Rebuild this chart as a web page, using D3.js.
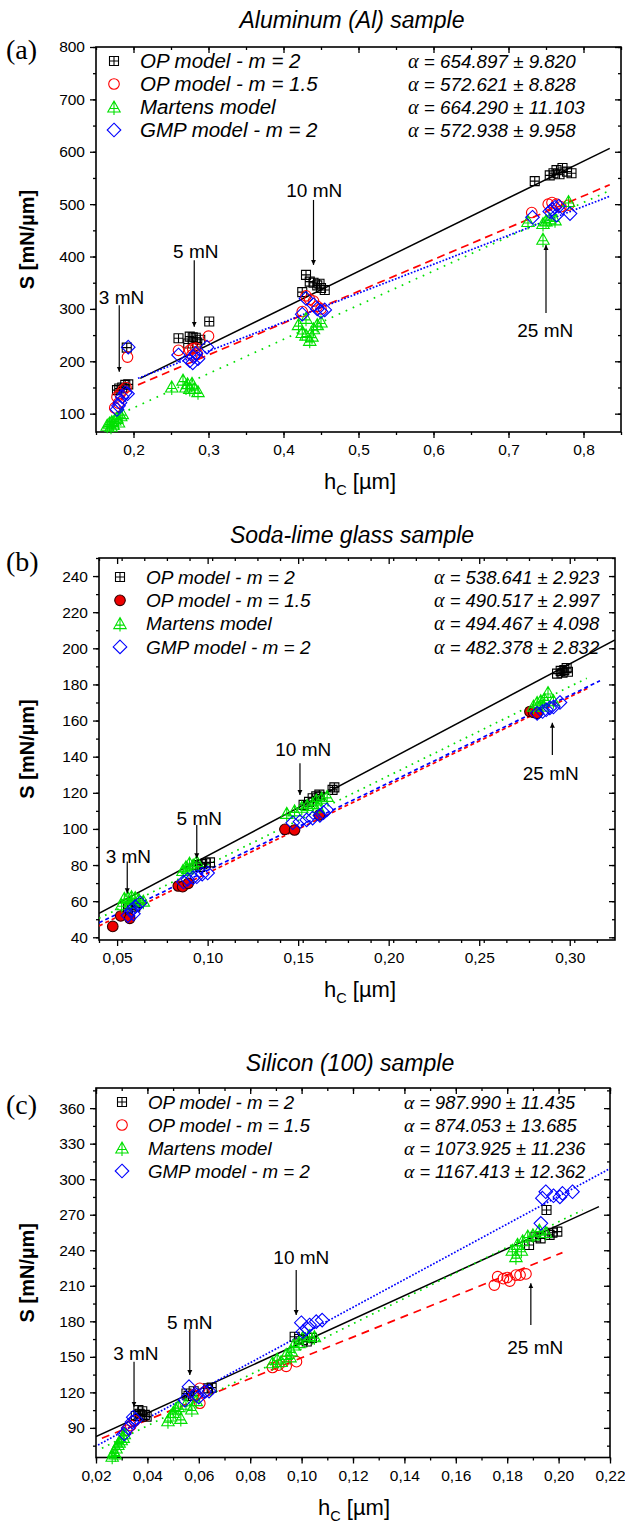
<!DOCTYPE html>
<html>
<head>
<meta charset="utf-8">
<script src="https://cdn.jsdelivr.net/npm/d3@7"></script>
<style>
  body { margin: 0; background: #fff; }
  svg { display: block; }
  text { font-family: "Liberation Sans", Arial, sans-serif; fill: #000; }
</style>
</head>
<body>
<svg id="chart" width="625" height="1527"></svg>
<script>
// ---- shared labels ----
const legendLabels = ["OP model - m = 2", "OP model - m = 1.5", "Martens model", "GMP model - m = 2"];

// ---- (a) Aluminum ----
const alOP2 = [[0.178,145],[0.181,148],[0.185,150],[0.189,155],[0.193,156],[0.191,226],
  [0.26,244],[0.275,247],[0.279,246],[0.283,245],[0.289,241],[0.273,234],[0.285,236],[0.301,276],
  [0.425,332],[0.43,365],[0.44,350],[0.445,345],[0.45,340],[0.455,336],[0.435,352],[0.448,348],
  [0.735,544],[0.76,559],[0.764,565],[0.772,569],[0.768,557],[0.784,559],[0.778,562],[0.755,555]];
const alOP15 = [[0.175,111],[0.178,132],[0.182,138],[0.186,145],[0.19,150],[0.192,208],[0.18,120],
  [0.26,221],[0.275,221],[0.279,224],[0.283,225],[0.278,212],[0.3,248],[0.285,214],
  [0.425,295],[0.43,325],[0.44,315],[0.445,305],[0.45,300],[0.435,318],
  [0.731,484],[0.753,500],[0.758,503],[0.764,500],[0.78,498],[0.77,495]];
const alMart = [[0.165,78],[0.168,82],[0.171,85],[0.173,80],[0.175,88],[0.178,92],[0.18,84],[0.183,96],[0.185,100],[0.17,76],
  [0.251,151],[0.266,164],[0.27,151],[0.275,148],[0.278,158],[0.281,148],[0.286,142],[0.272,157],
  [0.42,270],[0.425,255],[0.43,250],[0.435,240],[0.44,262],[0.445,270],[0.45,275],[0.43,282],[0.438,248],
  [0.726,467],[0.746,463],[0.75,468],[0.762,470],[0.78,505],[0.746,433],[0.755,472]];
const alGMP = [[0.178,108],[0.182,121],[0.185,132],[0.189,140],[0.192,138],[0.193,227],[0.18,115],
  [0.26,212],[0.275,201],[0.28,209],[0.283,215],[0.286,205],[0.298,227],[0.279,197],
  [0.425,290],[0.43,320],[0.44,308],[0.445,300],[0.45,295],[0.455,298],
  [0.732,475],[0.755,486],[0.762,494],[0.767,496],[0.782,482],[0.764,479],[0.758,490]];
const alFits = [[[0.209,167.5],[0.835,606.6]], [[0.206,155],[0.835,537]],
  [[0.184,100.7],[0.835,526]], [[0.206,167.5],[0.835,515]]];
const alAlpha = ["654.897 ± 9.820", "572.621 ± 8.828", "664.290 ± 11.103", "572.938 ± 9.958"];
// label, text h, text S, arrow h, arrow start S, arrow tip S
const alNotes = [["3 mN",0.184,321,0.181,307,180], ["5 mN",0.283,409,0.281,393,266],
  ["10 mN",0.441,527,0.44,508,384], ["25 mN",0.749,258,0.75,292,422]];
const alXTicks = [0.2,0.3,0.4,0.5,0.6,0.7,0.8];
const alYTicks = [100,200,300,400,500,600,700,800];

// ---- (b) Soda-lime glass ----
const glOP2 = [[0.056,56],[0.058,58],[0.06,57],[0.062,59],
  [0.0958,79],[0.097,80.5],[0.099,81],[0.1013,81.5],[0.094,80],
  [0.153,113.3],[0.156,115],[0.158,117],[0.16,118],[0.1617,119],[0.162,117.8],[0.169,121.6],[0.17,123],
  [0.293,186],[0.295,187.5],[0.297,188],[0.2983,189],[0.296,186.5],[0.299,187]];
const glOP15 = [[0.0476,46],[0.052,51.8],[0.057,50.5],
  [0.0838,68.4],[0.0862,68],[0.0893,69.9],
  [0.1427,99.8],[0.148,99.4],[0.1617,107.7],
  [0.278,165],[0.28,164.5],[0.282,164]];
const glMart = [[0.0525,58],[0.054,61.6],[0.056,62],[0.058,62.5],[0.06,62],[0.062,61],[0.0645,60],[0.0575,59],
  [0.0864,77],[0.088,79],[0.09,81],[0.092,80],[0.094,82],[0.089,78],
  [0.1437,108.6],[0.148,110],[0.152,112],[0.155,113],[0.158,114],[0.16,116],[0.163,117],[0.166,118],[0.161,112],
  [0.28,168],[0.282,170],[0.284,171],[0.286,172],[0.288,175.5],[0.291,171],[0.285,168]];
const glGMP = [[0.056,52],[0.058,55],[0.06,57],[0.0627,59],[0.059,53],
  [0.0866,70.6],[0.089,72],[0.092,73],[0.094,73.5],[0.097,75],[0.1,75.6],
  [0.147,103.4],[0.151,104],[0.1547,105],[0.158,106],[0.162,107.5],[0.1658,110.5],[0.164,109],
  [0.282,164],[0.285,165],[0.287,166],[0.289,167],[0.2946,170],[0.291,167.5]];
const glFits = [[[0.04,53.3],[0.325,204.6]], [[0.04,46.3],[0.31,177.9]],
  [[0.04,50.5],[0.3094,183.4]], [[0.04,48],[0.3167,182]]];
const glAlpha = ["538.641 ± 2.923", "490.517 ± 2.997", "494.467 ± 4.098", "482.378 ± 2.832"];
const glNotes = [["3 mN",0.0562,85,0.0556,81.9,64.4], ["5 mN",0.0954,105.9,0.094,102.2,83.7],
  ["10 mN",0.1528,144.1,0.151,136.3,118.8], ["25 mN",0.2895,130.8,0.2904,140.9,158.8]];
const glXTicks = [0.05,0.10,0.15,0.20,0.25,0.30];
const glYTicks = [40,60,80,100,120,140,160,180,200,220,240];

// ---- (c) Silicon (100) ----
const siOP2 = [[0.0355,100],[0.037,102],[0.038,104],[0.039,101],[0.0397,99.5],[0.0365,105],
  [0.0552,119],[0.056,117],[0.0636,123.4],[0.065,124],[0.058,121],
  [0.0973,167],[0.1005,164.2],[0.102,163],[0.104,166],[0.099,165],
  [0.1953,274],[0.1885,244.4],[0.191,251.4],[0.1965,253],[0.1976,254.8],[0.1995,255.7],[0.193,250]];
const siOP15 = [[0.032,88],[0.0335,92],[0.035,96],
  [0.0604,123.4],[0.0604,110.8],[0.062,120],[0.058,118],
  [0.0887,141],[0.091,143],[0.094,142],[0.098,145.9],[0.093,146],
  [0.175,210.6],[0.1763,217.7],[0.1785,216],[0.18,217],[0.181,214],[0.1834,219],[0.1873,220],[0.185,219]];
const siMart = [[0.0263,66],[0.027,70],[0.0278,73],[0.0285,76],[0.029,78],[0.0298,80],[0.0306,82],[0.031,85],[0.0275,68],
  [0.048,96],[0.049,100],[0.05,103],[0.051,106],[0.052,108],[0.053,98],[0.0573,106],[0.059,113],[0.055,110],
  [0.0887,145],[0.0905,148],[0.092,146],[0.094,152],[0.096,155],[0.097,160],[0.099,162],[0.1005,166.7],[0.103,168],[0.105,167],[0.0955,150],
  [0.182,240],[0.1834,234.6],[0.184,245],[0.186,248],[0.188,252],[0.19,253],[0.1925,257],[0.195,255],[0.1855,240]];
const siGMP = [[0.031,85],[0.0325,90],[0.034,95],[0.0345,99],[0.0355,97],
  [0.0546,113.5],[0.0562,124.8],[0.0591,117.8],[0.0623,120.6],[0.064,121],[0.06,116],
  [0.0999,178.8],[0.1005,171.2],[0.1031,176.9],[0.1057,179.7],[0.108,181],[0.102,174],
  [0.1931,262.7],[0.1937,284],[0.195,289.4],[0.198,286],[0.2005,285],[0.2015,288],[0.2054,289.4]];
const siFits = [[[0.02,82.6],[0.2157,276.8]], [[0.0223,81.2],[0.2015,238]],
  [[0.0223,72.8],[0.2093,274]], [[0.0208,75.6],[0.22,309]]];
const siAlpha = ["987.990 ± 11.435", "874.053 ± 13.685", "1073.925 ± 11.236", "1167.413 ± 12.362"];
const siNotes = [["3 mN",0.0355,152.4,0.0348,145.9,107.9], ["5 mN",0.0565,178.8,0.0565,173.2,134.7],
  ["10 mN",0.0999,233.7,0.0979,223.3,185.3], ["25 mN",0.1909,158,0.1892,176.9,212.1]];
const siXTicks = [0.02,0.04,0.06,0.08,0.10,0.12,0.14,0.16,0.18,0.20,0.22];
const siYTicks = [90,120,150,180,210,240,270,300,330,360];

const svg = d3.select("#chart");

// arrow head
svg.append("defs").append("marker")
  .attr("id", "head").attr("viewBox", "0 0 10 10").attr("refX", 10).attr("refY", 5)
  .attr("markerWidth", 5).attr("markerHeight", 7).attr("markerUnits", "userSpaceOnUse")
  .attr("orient", "auto")
  .append("path").attr("d", "M0,0L10,5L0,10Z").attr("fill", "#000");

const colors = ["#000000", "#ff0000", "#00e000", "#0000ff"];
const shapes = {
  sq: "M-4.5,-4.5H4.5V4.5H-4.5Z M0,-4.5V4.5 M-4.5,0H4.5",
  tri: "M0,-6L6.2,5H-6.2Z M0,-6V8 M-4.5,1.5H4.5",
  dia: "M0,-6.8L6.8,0L0,6.8L-6.8,0Z"
};

function marker(sel, i, filledCircle) {
  if (i === 1) {
    sel.append("circle").attr("r", 5.3)
      .attr("fill", filledCircle ? "#ee0000" : "none")
      .attr("stroke", filledCircle ? "#330000" : colors[1]).attr("stroke-width", 1.1);
  } else {
    sel.append("path").attr("d", shapes[["sq", null, "tri", "dia"][i]])
      .attr("fill", "none").attr("stroke", colors[i]).attr("stroke-width", 1.1);
  }
}

function drawPanel(p) {
  const g = svg.append("g");
  const x = d3.scaleLinear().domain(p.xDomain).range([p.left, p.right]);
  const y = d3.scaleLinear().domain(p.yDomain).range([p.bottom, p.top]);

  g.append("clipPath").attr("id", "clip-" + p.key).append("rect")
    .attr("x", p.left).attr("y", p.top).attr("width", p.right - p.left).attr("height", p.bottom - p.top);

  // titles
  g.append("text").attr("x", p.titleX).attr("y", p.titleY).attr("text-anchor", "middle")
    .attr("font-size", 23).attr("font-style", "italic").text(p.title);
  g.append("text").attr("x", 6).attr("y", p.letterY)
    .style("font-family", "'Liberation Serif', 'Times New Roman', serif").attr("font-size", 28).text(p.letter);

  // axes: bottom/left ticks outward, top/right inward
  const xMinor = d3.range(p.xDomain[0], p.xDomain[1] + 1e-9, p.xMinorStep);
  const yMinor = d3.range(p.yMinorStart, p.yDomain[1] + 1e-9, p.yMinorStep);
  const addAxis = (axis, tx, ty) => {
    const a = g.append("g").attr("transform", `translate(${tx},${ty})`).call(axis);
    a.select(".domain").remove();
    a.selectAll("line").attr("stroke-width", 1.3);
    return a;
  };
  addAxis(d3.axisBottom(x).tickValues(xMinor).tickSize(3).tickFormat(""), 0, p.bottom);
  addAxis(d3.axisBottom(x).tickValues(p.xTicks).tickSize(6).tickPadding(6).tickFormat(p.xFormat), 0, p.bottom)
    .selectAll("text").attr("font-size", 15.5).style("font-family", "'Liberation Sans', Arial, sans-serif");
  addAxis(d3.axisBottom(x).tickValues(xMinor).tickSize(3).tickFormat(""), 0, p.top);
  addAxis(d3.axisBottom(x).tickValues(p.xTicks).tickSize(6).tickFormat(""), 0, p.top);
  addAxis(d3.axisLeft(y).tickValues(yMinor).tickSize(3).tickFormat(""), p.left, 0);
  addAxis(d3.axisLeft(y).tickValues(p.yTicks).tickSize(6).tickPadding(5).tickFormat(d3.format("d")), p.left, 0)
    .selectAll("text").attr("font-size", 15.5).style("font-family", "'Liberation Sans', Arial, sans-serif");
  addAxis(d3.axisLeft(y).tickValues(yMinor).tickSize(3).tickFormat(""), p.right, 0);
  addAxis(d3.axisLeft(y).tickValues(p.yTicks).tickSize(6).tickFormat(""), p.right, 0);

  g.append("rect").attr("x", p.left).attr("y", p.top)
    .attr("width", p.right - p.left).attr("height", p.bottom - p.top)
    .attr("fill", "none").attr("stroke", "#000").attr("stroke-width", 1.6);

  // axis titles
  const xt = g.append("text").attr("x", p.xTitleX).attr("y", p.bottom + 57)
    .attr("text-anchor", "middle").attr("font-size", 22);
  xt.append("tspan").text("h");
  xt.append("tspan").attr("font-size", 14.5).attr("dy", 6).text("C");
  xt.append("tspan").attr("dy", -6).text(" [\u00b5m]");
  g.append("text")
    .attr("transform", `translate(${p.yTitleX},${(p.top + p.bottom) / 2}) rotate(-90)`)
    .attr("text-anchor", "middle").attr("font-size", 20).attr("font-weight", "bold")
    .text("S [mN/\u00b5m]");

  // fit lines
  const line = d3.line().x(d => x(d[0])).y(d => y(d[1]));
  const fl = g.append("g").attr("clip-path", `url(#clip-${p.key})`);
  p.fits.forEach((f, i) => {
    fl.append("path").attr("d", line(f)).attr("fill", "none")
      .attr("stroke", colors[i]).attr("stroke-width", i === 0 ? 1.5 : 1.7)
      .attr("stroke-dasharray", p.dashes[i]);
  });

  // points
  p.series.forEach((s, i) => {
    g.append("g").selectAll("g").data(s).join("g")
      .attr("transform", d => `translate(${x(d[0])},${y(d[1])})`)
      .each(function () { marker(d3.select(this), i, p.filledCircle); });
  });

  // load annotations
  p.notes.forEach(n => {
    g.append("text").attr("x", x(n[1])).attr("y", y(n[2]) + 6.5).attr("text-anchor", "middle")
      .attr("font-size", 19).text(n[0]);
    g.append("line").attr("x1", x(n[3])).attr("x2", x(n[3]))
      .attr("y1", y(n[4])).attr("y2", y(n[5]))
      .attr("stroke", "#000").attr("stroke-width", 1.2).attr("marker-end", "url(#head)");
  });

  // legend
  legendLabels.forEach((lab, i) => {
    const cy = p.legY + i * p.legDy;
    const m = g.append("g").attr("transform", `translate(${p.legSymX},${cy})`);
    marker(m, i, p.filledCircle);
    g.append("text").attr("x", p.legTextX).attr("y", cy + p.legFont * 0.36)
      .attr("font-size", p.legFont).attr("font-style", "italic").text(lab);
    const t = g.append("text").attr("x", p.alphaX).attr("y", cy + p.alphaFont * 0.36)
      .attr("font-size", p.alphaFont).attr("font-style", "italic");
    t.append("tspan").style("font-family", "'Liberation Serif', 'Times New Roman', serif")
      .attr("font-size", p.alphaFont + 1.5).text("\u03b1");
    t.append("tspan").text(" = " + p.alpha[i]);
  });
}

const comma = f => d => d3.format(f)(d).replace(".", ",");

drawPanel({
  key: "a", title: "Aluminum (Al) sample", letter: "(a)", titleX: 352, titleY: 28, letterY: 59,
  left: 96, right: 621, top: 47, bottom: 432,
  xDomain: [0.15, 0.85], yDomain: [65, 800], xTicks: alXTicks, yTicks: alYTicks,
  xMinorStep: 0.05, yMinorStart: 100, yMinorStep: 50, xFormat: comma(".1f"),
  xTitleX: 360, yTitleX: 34,
  series: [alOP2, alOP15, alMart, alGMP], fits: alFits, alpha: alAlpha, notes: alNotes,
  dashes: [null, "8,5", "1.7,6", "1.7,1.7"], filledCircle: false,
  legY: 61, legDy: 23, legSymX: 114, legTextX: 140, legFont: 20.5, alphaX: 408, alphaFont: 18.8
});

drawPanel({
  key: "b", title: "Soda-lime glass sample", letter: "(b)", titleX: 352, titleY: 543, letterY: 571,
  left: 99, right: 615, top: 558, bottom: 940,
  xDomain: [0.04, 0.325], yDomain: [38.5, 250], xTicks: glXTicks, yTicks: glYTicks,
  xMinorStep: 0.0125, yMinorStart: 40, yMinorStep: 10, xFormat: comma(".2f"),
  xTitleX: 360, yTitleX: 34,
  series: [glOP2, glOP15, glMart, glGMP], fits: glFits, alpha: glAlpha, notes: glNotes,
  dashes: [null, "4,3", "1.7,5", "4,3"], filledCircle: true,
  legY: 577, legDy: 23.3, legSymX: 120, legTextX: 146, legFont: 19, alphaX: 434, alphaFont: 18.5
});

drawPanel({
  key: "c", title: "Silicon (100) sample", letter: "(c)", titleX: 350, titleY: 1071, letterY: 1114,
  left: 96, right: 610, top: 1088, bottom: 1457.5,
  xDomain: [0.02, 0.22], yDomain: [65, 377], xTicks: siXTicks, yTicks: siYTicks,
  xMinorStep: 0.01, yMinorStart: 75, yMinorStep: 15, xFormat: comma(".2f"),
  xTitleX: 354, yTitleX: 34,
  series: [siOP2, siOP15, siMart, siGMP], fits: siFits, alpha: siAlpha, notes: siNotes,
  dashes: [null, "8,6", "1.7,5", "1.7,1.7"], filledCircle: false,
  legY: 1102, legDy: 23, legSymX: 122, legTextX: 148, legFont: 18.7, alphaX: 404, alphaFont: 18.2
});
</script>
</body>
</html>
